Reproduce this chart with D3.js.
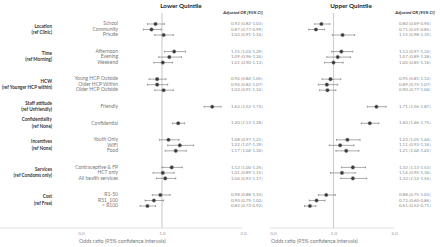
<!DOCTYPE html>
<html>
<head>
<meta charset="utf-8">
<script src="https://cdn.jsdelivr.net/npm/d3@7"></script>
<style>
  body { margin: 0; background: #fff; }
  text { font-family: Lato, "Open Sans", sans-serif; }
</style>
</head>
<body>
<svg id="vis"></svg>
<script>
const WIDTH = 440;
const HEIGHT = 247;

// grupos y categorias
const groups = ["Location", "Time", "HCW", "Staff attitude", "Confidentiality", "Incentives", "Services", "Cost"];
const groupRefs = ["(ref Clinic)", "(ref Morning)", "(ref Younger HCP within)", "(ref Unfriendly)", "(ref None)", "(ref None)", "(ref Condoms only)", "(ref Free)"];
const items = ["School", "Community", "Private", "Afternoon", "Evening", "Weekend",
  "Young HCP Outside", "Older HCP Within", "Older HCP Outside", "Friendly", "Confidential",
  "Youth Only", "WIFI", "Food", "Contraceptive & FP", "HCT only", "All health services",
  "R1-50", "R51_100", "> R100"];
const itemGroup = [0, 0, 0, 1, 1, 1, 2, 2, 2, 3, 4, 5, 5, 5, 6, 6, 6, 7, 7, 7];

// Lower quintile
const lowerOR = [0.92, 0.87, 1.02, 1.15, 1.09, 1.01, 0.94, 0.94, 1.02, 1.62, 1.20, 1.08, 1.22, 1.17, 1.12, 1.01, 1.04, 0.98, 0.90, 0.82];
const lowerLo = [0.82, 0.77, 0.91, 1.03, 0.96, 0.90, 0.84, 0.82, 0.91, 1.52, 1.13, 0.97, 1.07, 1.04, 1.00, 0.89, 0.93, 0.88, 0.79, 0.73];
const lowerHi = [1.03, 0.99, 1.14, 1.29, 1.24, 1.13, 1.05, 1.07, 1.14, 1.73, 1.28, 1.21, 1.39, 1.30, 1.25, 1.15, 1.17, 1.10, 1.02, 0.92];

// Upper quintile
const upperOR = [0.80, 0.71, 1.15, 1.13, 1.07, 1.00, 0.95, 0.89, 0.90, 1.71, 1.60, 1.23, 1.11, 1.21, 1.32, 1.14, 1.32, 0.88, 0.72, 0.61];
const upperLo = [0.69, 0.59, 0.98, 0.97, 0.89, 0.85, 0.81, 0.75, 0.77, 1.56, 1.46, 1.05, 0.93, 1.04, 1.13, 0.95, 1.12, 0.75, 0.60, 0.52];
const upperHi = [0.94, 0.85, 1.35, 1.32, 1.28, 1.16, 1.12, 1.07, 1.04, 1.87, 1.75, 1.44, 1.34, 1.42, 1.53, 1.36, 1.55, 1.03, 0.86, 0.71];

const axisTicks = [0, 1, 2];

const svg = d3.select("#vis")
  .attr("width", WIDTH)
  .attr("height", HEIGHT);

// posicion vertical: cada grupo deja 2 espacios vacios
const slots = items.map((d, i) => i + 2 * itemGroup[i]);
const y = d3.scaleLinear().domain([0, d3.max(slots)]).range([24, 206]);

// etiquetas de grupo
groups.forEach((g, gi) => {
  const ys = slots.filter((s, i) => itemGroup[i] === gi).map(y);
  const cy = d3.mean(ys);
  svg.append("text")
    .attr("x", 52).attr("y", cy - 3.2)
    .attr("text-anchor", "end").attr("dominant-baseline", "middle")
    .attr("font-size", 4.6).attr("font-weight", "bold").attr("fill", "#333")
    .text(g);
  svg.append("text")
    .attr("x", 52).attr("y", cy + 3.2)
    .attr("text-anchor", "end").attr("dominant-baseline", "middle")
    .attr("font-size", 4.6).attr("font-weight", "bold").attr("fill", "#333")
    .text(groupRefs[gi]);
});

// etiquetas de categoria
svg.append("g").selectAll("text")
  .data(items)
  .join("text")
  .attr("x", 118)
  .attr("y", (d, i) => y(slots[i]))
  .attr("text-anchor", "end").attr("dominant-baseline", "middle")
  .attr("font-size", 5).attr("fill", "#777")
  .text(d => d);

function panel(title, or, lo, hi, range, lineStart, titleX, ciX, headX) {
  const x = d3.scaleLinear().domain([0, 2]).range(range);
  const g = svg.append("g");

  g.append("text")
    .attr("x", titleX).attr("y", 6)
    .attr("text-anchor", "middle").attr("dominant-baseline", "middle")
    .attr("font-size", 6.3).attr("font-weight", "bold").attr("fill", "#222")
    .text(title);

  g.append("text")
    .attr("x", headX).attr("y", 13)
    .attr("text-anchor", "middle").attr("dominant-baseline", "middle")
    .attr("font-size", 4.3).attr("font-weight", "bold").attr("font-style", "italic").attr("fill", "#333")
    .text("Adjusted OR [95% CI]");

  // linea de referencia en 1
  g.append("line")
    .attr("x1", x(1)).attr("x2", x(1))
    .attr("y1", 13).attr("y2", 228)
    .attr("stroke", "#d0d0d0").attr("stroke-width", 1.2);

  // eje
  g.append("line")
    .attr("x1", lineStart).attr("x2", x(2))
    .attr("y1", 228).attr("y2", 228)
    .attr("stroke", "#d9d9d9").attr("stroke-width", 0.8);

  const axis = g.append("g")
    .attr("transform", "translate(0,228)")
    .call(d3.axisBottom(x).tickValues(axisTicks).tickFormat(d3.format(".1f")).tickSize(0).tickPadding(4));
  axis.select(".domain").remove();
  axis.selectAll("text")
    .attr("font-size", 4.6).attr("fill", "#999")
    .attr("font-family", "'Liberation Serif', serif");

  g.append("text")
    .attr("x", x(0) - 2).attr("y", 242)
    .attr("dominant-baseline", "middle")
    .attr("font-size", 5.3).attr("fill", "#777")
    .text("Odds ratio (95% confidence intervals)");

  const rows = g.append("g").selectAll("g")
    .data(items)
    .join("g")
    .attr("transform", (d, i) => `translate(0,${y(slots[i])})`);

  rows.append("line")
    .attr("x1", (d, i) => x(lo[i])).attr("x2", (d, i) => x(hi[i]))
    .attr("stroke", "#555").attr("stroke-width", 0.5);
  rows.append("line")
    .attr("x1", (d, i) => x(lo[i])).attr("x2", (d, i) => x(lo[i]))
    .attr("y1", -1).attr("y2", 1)
    .attr("stroke", "#555").attr("stroke-width", 0.5);
  rows.append("line")
    .attr("x1", (d, i) => x(hi[i])).attr("x2", (d, i) => x(hi[i]))
    .attr("y1", -1).attr("y2", 1)
    .attr("stroke", "#555").attr("stroke-width", 0.5);
  rows.append("circle")
    .attr("cx", (d, i) => x(or[i]))
    .attr("r", 1.8)
    .attr("fill", "#3a3a3a").attr("stroke", "#888").attr("stroke-width", 0.4);

  rows.append("text")
    .attr("x", ciX)
    .attr("dominant-baseline", "middle")
    .attr("font-size", 4.4).attr("fill", "#888")
    .attr("font-family", "'Liberation Serif', serif")
    .text((d, i) => `${or[i].toFixed(2)} [${lo[i].toFixed(2)}-${hi[i].toFixed(2)}]`);
}

panel("Lower Quintile", lowerOR, lowerLo, lowerHi, [81, 243], 0, 181, 231, 243);
panel("Upper Quintile", upperOR, upperLo, upperHi, [273, 394], 270, 351, 399, 415);
</script>
</body>
</html>
